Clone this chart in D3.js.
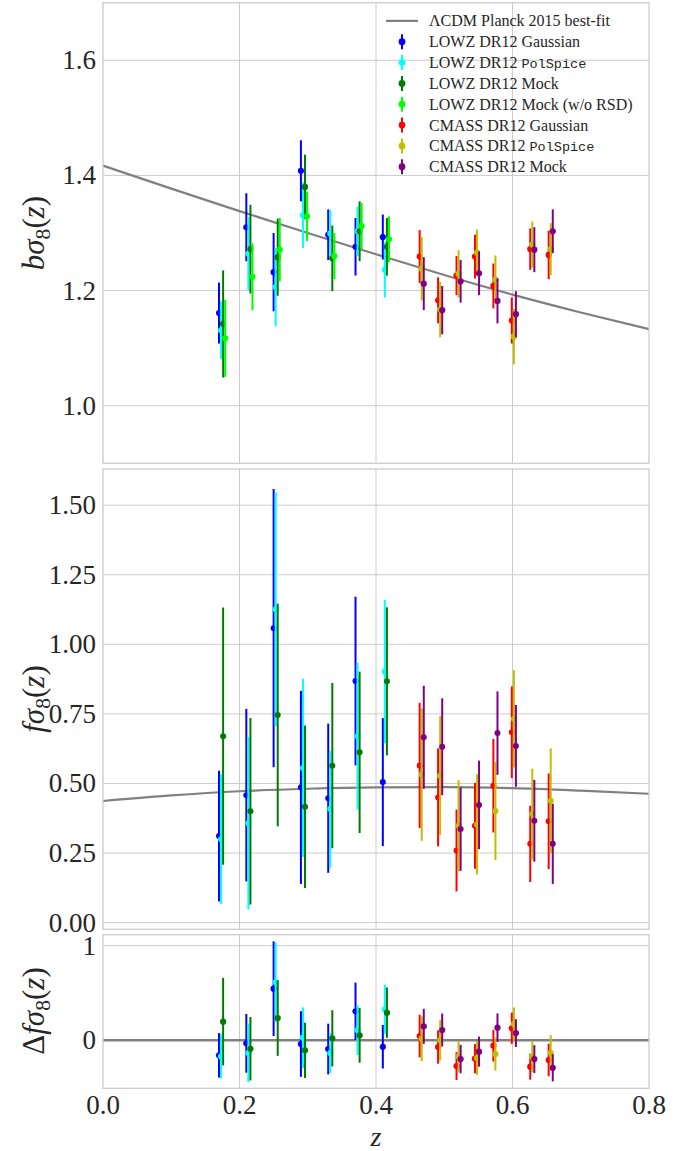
<!DOCTYPE html>
<html>
<head>
<meta charset="utf-8">
<script src="https://cdn.jsdelivr.net/npm/d3@7"></script>
<style>
  body { margin: 0; background: #ffffff; }
  svg text { font-family: "Liberation Serif", "Times New Roman", serif; fill: #262626; }
</style>
</head>
<body>
<svg id="chart" width="699" height="1151"></svg>
<script>
// ---- redshift bins ----
const zLOWZ  = [0.17, 0.21, 0.25, 0.29, 0.33, 0.37, 0.41];
const zCMASS = [0.464, 0.491, 0.518, 0.545, 0.572, 0.599, 0.626, 0.653];

// ---- LCDM Planck 2015 best-fit curves ----
const theoryZ  = [0.0, 0.1, 0.2, 0.3, 0.4, 0.5, 0.6, 0.7, 0.8];
const theoryB  = [1.417, 1.377, 1.338, 1.300, 1.263, 1.227, 1.193, 1.162, 1.133];
const theoryF  = [0.437, 0.457, 0.472, 0.481, 0.486, 0.487, 0.483, 0.474, 0.463];

// ---- b sigma8 ----
const lowzGaussB      = [1.161, 1.310, 1.232, 1.408, 1.297, 1.276, 1.293];
const lowzGaussBErr   = [0.053, 0.059, 0.068, 0.053, 0.044, 0.050, 0.039];
const lowzPolB        = [1.131, 1.264, 1.206, 1.331, 1.299, 1.303, 1.236];
const lowzPolBErr     = [0.050, 0.063, 0.068, 0.057, 0.041, 0.043, 0.048];
const lowzMockB       = [1.142, 1.272, 1.258, 1.380, 1.256, 1.303, 1.276];
const lowzMockBErr    = [0.093, 0.077, 0.067, 0.056, 0.057, 0.052, 0.050];
const lowzNoRsdB      = [1.117, 1.224, 1.271, 1.329, 1.260, 1.312, 1.289];
const lowzNoRsdBErr   = [0.067, 0.058, 0.055, 0.043, 0.040, 0.040, 0.040];
const cmassGaussB     = [1.259, 1.183, 1.226, 1.259, 1.208, 1.148, 1.272, 1.262];
const cmassGaussBErr  = [0.046, 0.040, 0.034, 0.038, 0.039, 0.040, 0.036, 0.042];
const cmassPolB       = [1.238, 1.167, 1.229, 1.266, 1.219, 1.120, 1.280, 1.272];
const cmassPolBErr    = [0.055, 0.048, 0.041, 0.040, 0.042, 0.048, 0.040, 0.045];
const cmassMockB      = [1.212, 1.166, 1.216, 1.230, 1.182, 1.159, 1.271, 1.303];
const cmassMockBErr   = [0.046, 0.042, 0.037, 0.038, 0.039, 0.040, 0.039, 0.038];

// ---- f sigma8 ----
const lowzGaussF      = [0.311, 0.458, 1.058, 0.486, 0.447, 0.868, 0.505];
const lowzGaussFErr   = [0.235, 0.310, 0.500, 0.347, 0.268, 0.303, 0.230];
const lowzPolF        = [0.300, 0.357, 1.126, 0.556, 0.408, 0.670, 0.902];
const lowzPolFErr     = [0.233, 0.310, 0.420, 0.320, 0.210, 0.263, 0.258];
const lowzMockF       = [0.670, 0.400, 0.746, 0.416, 0.564, 0.612, 0.867];
const lowzMockFErr    = [0.462, 0.335, 0.400, 0.292, 0.297, 0.290, 0.266];
const cmassGaussF     = [0.565, 0.450, 0.259, 0.348, 0.492, 0.684, 0.283, 0.364];
const cmassGaussFErr  = [0.225, 0.176, 0.147, 0.154, 0.168, 0.165, 0.137, 0.172];
const cmassPolF       = [0.532, 0.528, 0.348, 0.353, 0.401, 0.732, 0.390, 0.438];
const cmassPolFErr    = [0.238, 0.214, 0.164, 0.180, 0.176, 0.175, 0.163, 0.188];
const cmassMockF      = [0.666, 0.632, 0.336, 0.423, 0.681, 0.635, 0.366, 0.283];
const cmassMockFErr   = [0.185, 0.174, 0.150, 0.159, 0.150, 0.147, 0.147, 0.144];

// ---- Delta f sigma8 (measurement minus model) ----
const lowzGaussDF     = [-0.159, -0.032, 0.546, -0.039, -0.092, 0.307, -0.068];
const lowzPolDF       = [-0.169, -0.134, 0.613, 0.028, -0.134, 0.109, 0.328];
const lowzMockDF      = [0.197, -0.089, 0.236, -0.106, 0.021, 0.053, 0.292];
const cmassGaussDF    = [0.045, -0.071, -0.272, -0.194, -0.057, 0.127, -0.279, -0.208];
const cmassPolDF      = [0.017, 0.003, -0.173, -0.187, -0.145, 0.172, -0.173, -0.134];
const cmassMockDF     = [0.148, 0.109, -0.198, -0.120, 0.134, 0.077, -0.198, -0.290];

// ---- tick labels ----
const xTicks   = [0.0, 0.2, 0.4, 0.6, 0.8];
const bTicks   = [1.0, 1.2, 1.4, 1.6];
const fTicks   = [0.00, 0.25, 0.50, 0.75, 1.00, 1.25, 1.50];
const dfTicks  = [0, 1];

const series = [
  { label: ["LOWZ DR12 ", "Gaussian", false], color: "#0000ff", z: zLOWZ, slot: 0,
    b: lowzGaussB, bErr: lowzGaussBErr, f: lowzGaussF, fErr: lowzGaussFErr, df: lowzGaussDF },
  { label: ["LOWZ DR12 ", "PolSpice", true], color: "#00ffff", z: zLOWZ, slot: 1,
    b: lowzPolB, bErr: lowzPolBErr, f: lowzPolF, fErr: lowzPolFErr, df: lowzPolDF },
  { label: ["LOWZ DR12 ", "Mock", false], color: "#007a00", z: zLOWZ, slot: 2,
    b: lowzMockB, bErr: lowzMockBErr, f: lowzMockF, fErr: lowzMockFErr, df: lowzMockDF },
  { label: ["LOWZ DR12 ", "Mock (w/o RSD)", false], color: "#00ff00", z: zLOWZ, slot: 3,
    b: lowzNoRsdB, bErr: lowzNoRsdBErr, f: null, fErr: null, df: null },
  { label: ["CMASS DR12 ", "Gaussian", false], color: "#ff0000", z: zCMASS, slot: 0,
    b: cmassGaussB, bErr: cmassGaussBErr, f: cmassGaussF, fErr: cmassGaussFErr, df: cmassGaussDF },
  { label: ["CMASS DR12 ", "PolSpice", true], color: "#bfbf00", z: zCMASS, slot: 1,
    b: cmassPolB, bErr: cmassPolBErr, f: cmassPolF, fErr: cmassPolFErr, df: cmassPolDF },
  { label: ["CMASS DR12 ", "Mock", false], color: "#800080", z: zCMASS, slot: 2,
    b: cmassMockB, bErr: cmassMockBErr, f: cmassMockF, fErr: cmassMockFErr, df: cmassMockDF }
];

const DODGE = 0.003;
const svg = d3.select("#chart");
const GRID = "#cccccc";
const LINE = "#808080";

const x = d3.scaleLinear().domain([0, 0.8]).range([103, 649]);

const panels = [
  { key: "b",  y: d3.scaleLinear().domain([0.9, 1.7]).range([463.3, 2.7]),
    ticks: bTicks, fmt: d3.format(".1f"), r: 3.1 },
  { key: "f",  y: d3.scaleLinear().domain([-0.024, 1.63]).range([929.3, 469]),
    ticks: fTicks, fmt: d3.format(".2f"), r: 3.0 },
  { key: "df", y: d3.scaleLinear().domain([-0.507, 1.116]).range([1088.3, 934.7]),
    ticks: dfTicks, fmt: d3.format("d"), r: 3.1 }
];

function mathText(sel, pieces, size) {
  pieces.forEach(p => {
    const t = sel.append("tspan").text(p.t);
    if (p.it) t.attr("font-style", "italic");
    if (p.sub) t.attr("font-size", size * 0.7).attr("dy", size * 0.2);
    if (p.up) t.attr("dy", -size * 0.2);
  });
}

panels.forEach((p, pi) => {
  const g = svg.append("g");
  const [y0, y1] = p.y.range();

  // grid
  g.append("g").selectAll("line").data(xTicks.slice(1, -1)).join("line")
    .attr("x1", d => x(d)).attr("x2", d => x(d))
    .attr("y1", y1).attr("y2", y0)
    .attr("stroke", GRID).attr("stroke-width", 1);
  g.append("g").selectAll("line").data(p.ticks).join("line")
    .attr("x1", x.range()[0]).attr("x2", x.range()[1])
    .attr("y1", d => p.y(d)).attr("y2", d => p.y(d))
    .attr("stroke", GRID).attr("stroke-width", 1);

  // y tick labels
  g.append("g").selectAll("text").data(p.ticks).join("text")
    .attr("x", 96).attr("y", d => p.y(d) + 9)
    .attr("text-anchor", "end")
    .attr("font-size", 27)
    .text(d => p.fmt(d));

  // model curve
  if (p.key === "df") {
    g.append("line")
      .attr("x1", x(0)).attr("x2", x(0.8))
      .attr("y1", p.y(0)).attr("y2", p.y(0))
      .attr("stroke", LINE).attr("stroke-width", 2.4);
  } else {
    const vals = p.key === "b" ? theoryB : theoryF;
    const line = d3.line().x(d => x(d[0])).y(d => p.y(d[1])).curve(d3.curveMonotoneX);
    g.append("path")
      .attr("d", line(theoryZ.map((z, i) => [z, vals[i]])))
      .attr("fill", "none").attr("stroke", LINE).attr("stroke-width", 2.2);
  }

  // measurements with error bars
  series.forEach(s => {
    const v = s[p.key];
    if (!v) return;
    const err = p.key === "b" ? s.bErr : s.fErr;
    const pts = s.z.map((z, i) => ({ z: z + s.slot * DODGE, v: v[i], e: err[i] }));
    const sg = g.append("g");
    sg.selectAll("line").data(pts).join("line")
      .attr("x1", d => x(d.z)).attr("x2", d => x(d.z))
      .attr("y1", d => p.y(d.v - d.e)).attr("y2", d => p.y(d.v + d.e))
      .attr("stroke", s.color).attr("stroke-width", 2);
    sg.selectAll("circle").data(pts).join("circle")
      .attr("cx", d => x(d.z)).attr("cy", d => p.y(d.v))
      .attr("r", p.r).attr("fill", s.color);
  });

  // frame
  g.append("rect")
    .attr("x", x.range()[0]).attr("y", y1)
    .attr("width", x.range()[1] - x.range()[0]).attr("height", y0 - y1)
    .attr("fill", "none").attr("stroke", GRID).attr("stroke-width", 1.3);
});

// x tick labels
svg.append("g").selectAll("text").data(xTicks).join("text")
  .attr("x", d => x(d)).attr("y", 1114)
  .attr("text-anchor", "middle").attr("font-size", 27)
  .text(d => d3.format(".1f")(d));

// x axis title
svg.append("text").attr("x", x(0.4)).attr("y", 1146)
  .attr("text-anchor", "middle").attr("font-size", 28).attr("font-style", "italic")
  .text("z");

// y axis titles
const yTitles = [
  { cy: 233, pieces: [{t: "b", it: true}, {t: "σ", it: true}, {t: "8", sub: true}, {t: "(", up: true}, {t: "z", it: true}, {t: ")"}] },
  { cy: 699, pieces: [{t: "f", it: true}, {t: "σ", it: true}, {t: "8", sub: true}, {t: "(", up: true}, {t: "z", it: true}, {t: ")"}] },
  { cy: 1011, pieces: [{t: "Δ"}, {t: "f", it: true}, {t: "σ", it: true}, {t: "8", sub: true}, {t: "(", up: true}, {t: "z", it: true}, {t: ")"}] }
];
yTitles.forEach(t => {
  const el = svg.append("text")
    .attr("transform", `translate(44,${t.cy}) rotate(-90)`)
    .attr("text-anchor", "middle").attr("font-size", 31);
  mathText(el, t.pieces, 31);
});

// legend
const leg = svg.append("g");
const legX = 402, legTextX = 429, legY0 = 20.9, legStep = 20.83;
leg.append("line")
  .attr("x1", 386).attr("x2", 418).attr("y1", legY0).attr("y2", legY0)
  .attr("stroke", LINE).attr("stroke-width", 2.2);
leg.append("text").attr("x", legTextX).attr("y", legY0 + 5.5)
  .attr("font-size", 16)
  .text("ΛCDM Planck 2015 best-fit");
series.forEach((s, i) => {
  const yy = legY0 + legStep * (i + 1);
  leg.append("line")
    .attr("x1", legX).attr("x2", legX).attr("y1", yy - 7.5).attr("y2", yy + 7.5)
    .attr("stroke", s.color).attr("stroke-width", 2);
  leg.append("circle").attr("cx", legX).attr("cy", yy).attr("r", 3.4).attr("fill", s.color);
  const t = leg.append("text").attr("x", legTextX).attr("y", yy + 5.5)
    .attr("font-size", 16);
  t.append("tspan").text(s.label[0]);
  const t2 = t.append("tspan").text(s.label[1]);
  if (s.label[2]) t2.attr("font-family", "'Liberation Mono', 'DejaVu Sans Mono', monospace").attr("font-size", 13.5);
});
</script>
</body>
</html>
